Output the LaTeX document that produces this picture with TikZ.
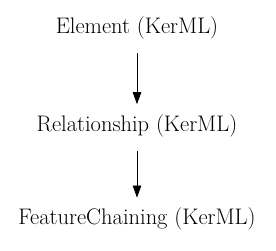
\documentclass[tikz,border=0pt]{standalone}
\usetikzlibrary{arrows.meta,positioning}

\begin{document}
\begin{tikzpicture}[
  x=1pt, y=1pt,
  cls/.style={minimum height=36pt, inner sep=0pt, align=center,
              font=\fontsize{22.5pt}{26pt}\selectfont},
  arr/.style={-{Triangle[length=12pt, width=8.5pt]}, line width=0.8pt,
              shorten <=7pt, shorten >=3pt},
  node distance=61pt
]
\useasboundingbox (0,0) rectangle (276,-251);
\node[cls] (elem) at (137,-28) {Element (KerML)};
\node[cls, below=61pt of elem] (rel) {Relationship (KerML)};
\node[cls, below=57pt of rel] (chain) {FeatureChaining (KerML)};

\draw[arr] (elem) -- (rel);
\draw[arr] (rel) -- (chain);
\end{tikzpicture}
\end{document}
